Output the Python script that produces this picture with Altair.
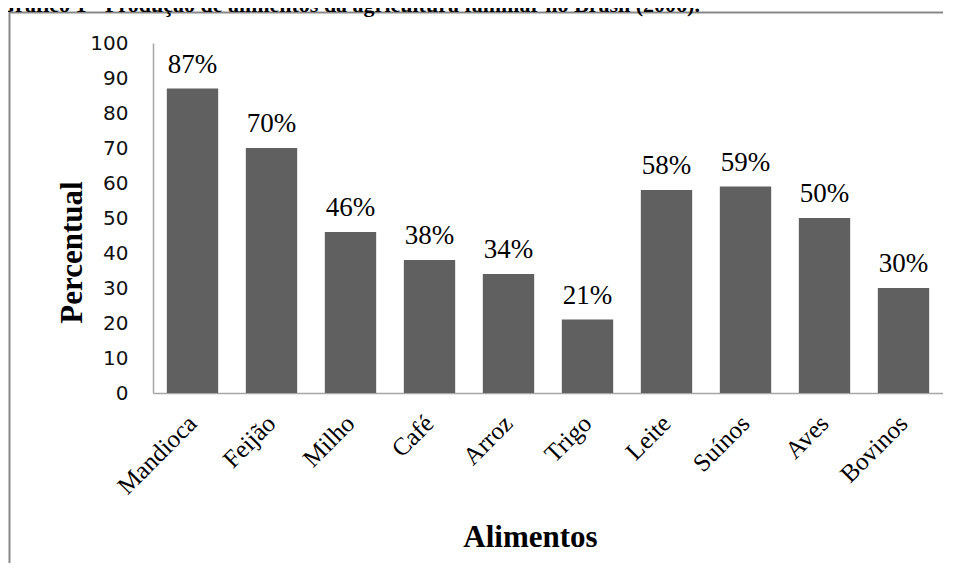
import altair as alt
import pandas as pd

categories = ["Mandioca", "Feijão", "Milho", "Café", "Arroz", "Trigo", "Leite", "Suínos", "Aves", "Bovinos"]
values = [87, 70, 46, 38, 34, 21, 58, 59, 50, 30]
labels = [f"{v}%" for v in values]
y_ticks = list(range(0, 101, 10))
title_text = "Gráfico 1 - Produção de alimentos da agricultura familiar no Brasil (2006)."

df = pd.DataFrame({"Alimento": categories, "Percentual": values, "label": labels})

SERIF = "Liberation Serif"

x_enc = alt.X(
    "Alimento:N",
    sort=categories,
    scale=alt.Scale(paddingInner=0.35, paddingOuter=0.175),
    axis=alt.Axis(
        labelAngle=-45, labelAlign="right", labelBaseline="middle",
        labelFont=SERIF, labelFontSize=25, labelColor="black", labelPadding=26,
        labelOverlap=False,
        ticks=False, domainColor="#a6a6a6", domainWidth=1.5,
        title="Alimentos", titleFont=SERIF, titleFontSize=31, titleFontWeight="bold",
        titleColor="black", titleX=377, titleY=153, titleBaseline="alphabetic", titleAlign="center",
    ),
)
y_enc = alt.Y(
    "Percentual:Q",
    scale=alt.Scale(domain=[0, 100], nice=False),
    axis=alt.Axis(
        values=y_ticks, ticks=False, grid=False, labelOverlap=False,
        labelFont="DejaVu Sans", labelFontSize=20, labelColor="#111", labelPadding=25,
        domainColor="#a6a6a6", domainWidth=1.5,
        title="Percentual", titleFont=SERIF, titleFontSize=31, titleFontWeight="bold",
        titleColor="black", titleAngle=-90, titleX=-81, titleY=209,
        titleAlign="center", titleBaseline="middle",
    ),
)

base = alt.Chart(df).encode(x=x_enc, y=y_enc)
bars = base.mark_bar(color="#606060")
text = base.mark_text(dy=-16, baseline="alphabetic", font=SERIF, fontSize=27, color="black").encode(
    text="label:N"
)

deco = pd.DataFrame({"t": [title_text]})
frame_top = alt.Chart(deco).mark_rule(stroke="#888888", strokeWidth=2).encode(
    x=alt.value(-144), x2=alt.value(820), y=alt.value(-30.5)
)
frame_left = alt.Chart(deco).mark_rule(stroke="#888888", strokeWidth=2).encode(
    x=alt.value(-143.5), y=alt.value(-31.5), y2=alt.value(600)
)
title = alt.Chart(deco).mark_text(
    align="left", baseline="alphabetic", font=SERIF, fontWeight="bold", fontSize=22, color="black"
).encode(x=alt.value(-155), y=alt.value(-31), text="t:N")

chart = alt.layer(frame_top, frame_left, bars, text, title).properties(
    width=790, height=350,
    autosize=alt.AutoSizeParams(type="none"),
    padding={"left": 145, "top": 35, "right": 0, "bottom": 170},
).configure_view(stroke=None).configure_axisY(labelOverlap=False)

chart.save("out.html", embed_options={"renderer": "svg", "actions": False})
